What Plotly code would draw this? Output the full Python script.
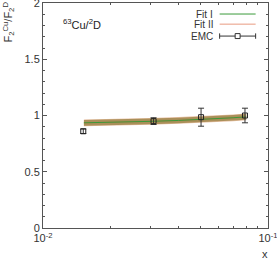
import plotly.graph_objects as go

# Fit bands (x, central, lower, upper)
fit_x = [0.0152, 0.02, 0.03, 0.04, 0.05, 0.06, 0.07, 0.08]
fit1_c = [0.935, 0.939, 0.948, 0.956, 0.964, 0.972, 0.980, 0.988]
fit1_lo = [0.910, 0.914, 0.923, 0.931, 0.939, 0.947, 0.955, 0.963]
fit1_hi = [0.960, 0.964, 0.973, 0.981, 0.989, 0.997, 1.005, 1.013]
fit2_c = [0.935, 0.939, 0.948, 0.956, 0.964, 0.972, 0.980, 0.988]
fit2_lo = [0.905, 0.909, 0.918, 0.926, 0.934, 0.942, 0.950, 0.958]
fit2_hi = [0.965, 0.969, 0.978, 0.986, 0.994, 1.002, 1.010, 1.018]

# EMC data
emc_x = [0.0151, 0.031, 0.0504, 0.079]
emc_y = [0.86, 0.95, 0.985, 1.0]
emc_err = [0.02, 0.03, 0.08, 0.065]

xticks = [0.01, 0.1]
xticklabels = ["10<sup>-2</sup>", "10<sup>-1</sup>"]
yticks = [0, 0.5, 1, 1.5, 2]
yticklabels = ["0", "0.5", "1", "1.5", "2"]

GREEN = "#3a9a3a"
ORANGE = "#e89a80"
FONT = "Liberation Sans"
TXT = "#333"

fig = go.Figure()
# Fit II band (wider, underneath)
fig.add_trace(go.Scatter(x=fit_x, y=fit2_hi, mode="lines", line=dict(width=0),
                         showlegend=False, hoverinfo="skip"))
fig.add_trace(go.Scatter(x=fit_x, y=fit2_lo, mode="lines", line=dict(width=0),
                         fill="tonexty", fillcolor="rgba(215,150,100,0.6)",
                         showlegend=False, hoverinfo="skip"))
# Fit I band
fig.add_trace(go.Scatter(x=fit_x, y=fit1_hi, mode="lines", line=dict(width=0),
                         showlegend=False, hoverinfo="skip"))
fig.add_trace(go.Scatter(x=fit_x, y=fit1_lo, mode="lines", line=dict(width=0),
                         fill="tonexty", fillcolor="rgba(130,110,40,0.6)",
                         showlegend=False, hoverinfo="skip"))
fig.add_trace(go.Scatter(x=fit_x, y=fit2_c, mode="lines", name="Fit II",
                         line=dict(color="#c8784a", width=1)))
fig.add_trace(go.Scatter(x=fit_x, y=fit1_c, mode="lines", name="Fit I",
                         line=dict(color=GREEN, width=1)))
fig.add_trace(go.Scatter(x=emc_x, y=emc_y, mode="markers", name="EMC",
                         marker=dict(symbol="square-open", size=5, color="#222",
                                     line=dict(width=1, color="#222")),
                         error_y=dict(type="data", array=emc_err, visible=True,
                                      color="#333", thickness=1, width=3)))

axis_common = dict(showline=True, linecolor="#555", linewidth=1, mirror="ticks",
                   ticks="inside", ticklen=4, tickcolor="#555", showgrid=False,
                   zeroline=False, automargin=False, ticklabeloverflow="allow",
                   tickfont=dict(family=FONT, size=11, color=TXT))

fig.update_xaxes(type="log", range=[-2, -1], tickmode="array", tickvals=xticks,
                 ticktext=xticklabels,
                 minor=dict(ticks="inside", ticklen=2, tickcolor="#555", tickmode="array",
                            tickvals=[0.02, 0.03, 0.04, 0.05, 0.06, 0.07, 0.08, 0.09]),
                 title=None, **axis_common)
fig.update_yaxes(range=[0, 2], tickmode="array", tickvals=yticks, ticktext=yticklabels,
                 minor=dict(ticks="inside", ticklen=2, tickcolor="#555", dtick=0.1, tick0=0),
                 title=None, **axis_common)

fig.add_annotation(x=0, xref="paper", xanchor="center", xshift=-35, y=1, yref="paper",
                   yanchor="top", yshift=3,
                   text="F<sub>2</sub><sup>Cu</sup>/F<sub>2</sub><sup>D</sup>",
                   textangle=-90, showarrow=False, font=dict(family=FONT, size=11, color=TXT))
fig.add_annotation(x=1, xref="paper", xanchor="center", xshift=-3, y=0, yref="paper",
                   yanchor="middle", yshift=-26, text="x", showarrow=False,
                   font=dict(family=FONT, size=11, color=TXT))
fig.add_annotation(x=0.08, xref="paper", xanchor="left", y=0.905, yref="paper",
                   yanchor="middle", text="<sup>63</sup>Cu/<sup>2</sup>D", showarrow=False,
                   font=dict(family=FONT, size=11, color="#222"))

# Manual legend (text on the left, symbol on the right, as in the reference)
leg_names = ["Fit I", "Fit II", "EMC"]
leg_y = [0.951, 0.906, 0.853]
leg_colors = [GREEN, ORANGE, "#333"]
tx, l0, l1 = 0.765, 0.785, 0.945
for name, yy, col in zip(leg_names, leg_y, leg_colors):
    fig.add_annotation(x=tx, xref="paper", xanchor="right", y=yy, yref="paper",
                       yanchor="middle", text=name, showarrow=False,
                       font=dict(family=FONT, size=10, color=TXT))
    fig.add_shape(type="line", xref="paper", yref="paper", x0=l0, x1=l1, y0=yy, y1=yy,
                  line=dict(color=col, width=1))
emc_yy = leg_y[2]
for xe in (l0, l1):
    fig.add_shape(type="line", xref="paper", yref="paper", x0=xe, x1=xe,
                  y0=emc_yy - 0.012, y1=emc_yy + 0.012, line=dict(color="#333", width=1))
xm = (l0 + l1) / 2
fig.add_shape(type="rect", xref="paper", yref="paper", x0=xm - 0.011, x1=xm + 0.011,
              y0=emc_yy - 0.011, y1=emc_yy + 0.011, fillcolor="white",
              line=dict(color="#333", width=1))

fig.update_layout(
    width=277, height=260,
    margin=dict(l=43, r=9, t=3, b=32),
    paper_bgcolor="white", plot_bgcolor="white",
    showlegend=False,
)

fig.write_html("out.html", config={"displayModeBar": False},
               post_script="document.body.style.margin='0';document.body.style.padding='0';")
